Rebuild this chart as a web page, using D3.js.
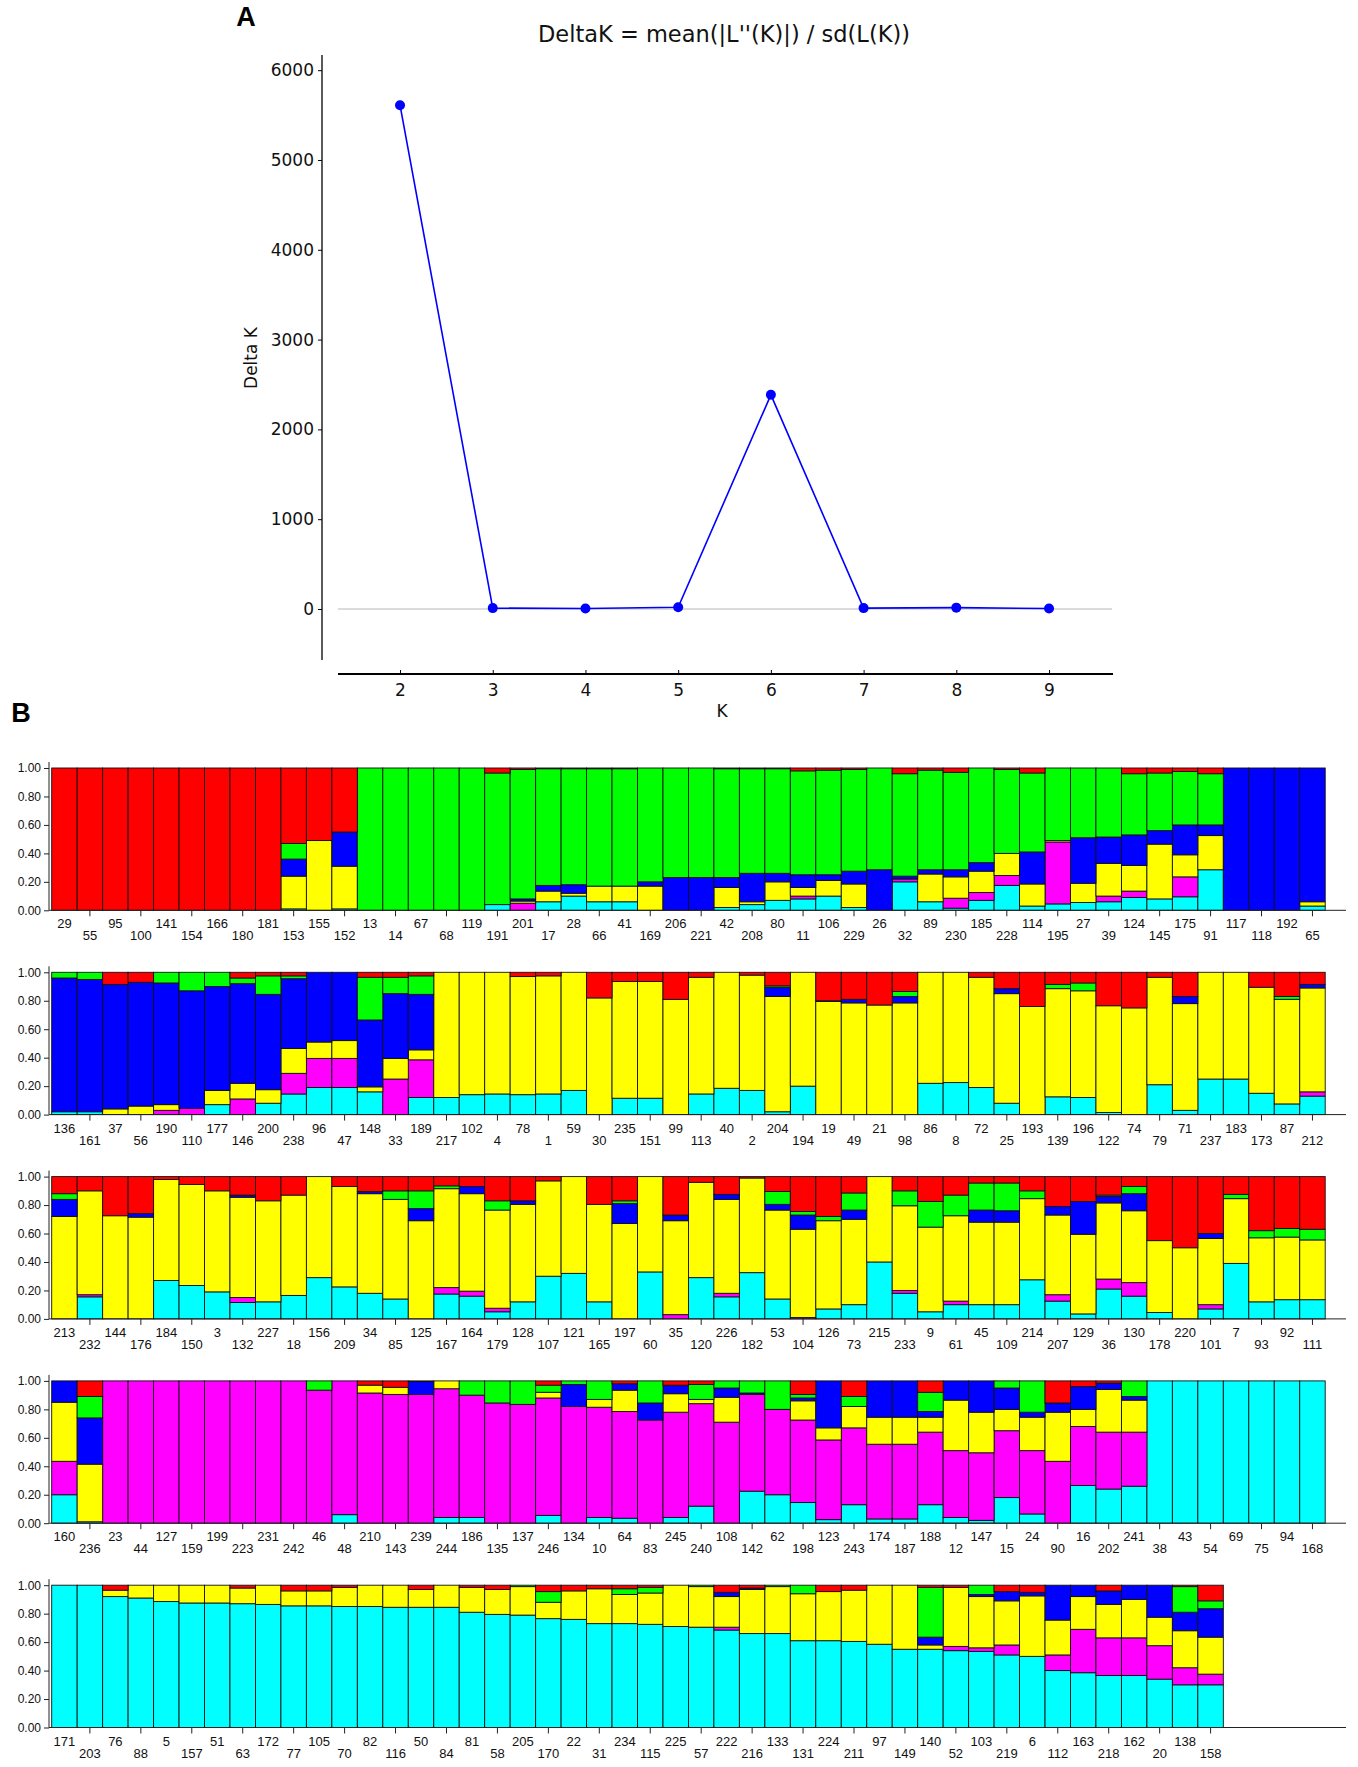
<!DOCTYPE html>
<html>
<head>
<meta charset="utf-8">
<script src="https://cdn.jsdelivr.net/npm/d3@7"></script>
<style>
  body { margin: 0; background: #fff; }
  svg { display: block; }
</style>
</head>
<body>
<svg id="chart" width="1358" height="1767"></svg>
<script>
// ---------------------------------------------------------------------
// Panel A data: Evanno DeltaK per K
// ---------------------------------------------------------------------
const kValues = [2, 3, 4, 5, 6, 7, 8, 9];
const deltaK = [5610, 10, 5, 20, 2385, 10, 15, 5];
const deltaTicks = [0, 1000, 2000, 3000, 4000, 5000, 6000];

// ---------------------------------------------------------------------
// Panel B data: membership per individual, cluster order bottom -> top
// ---------------------------------------------------------------------
const clusters = ['cyan', 'magenta', 'yellow', 'blue', 'green', 'red'];
const clusterColors = ['#00ffff', '#ff00ff', '#ffff00', '#0000ff', '#00ff00', '#ff0000'];
const qTicks = [0, 0.2, 0.4, 0.6, 0.8, 1.0];

const row1Labels = [29, 55, 95, 100, 141, 154, 166, 180, 181, 153, 155, 152, 13, 14, 67, 68, 119, 191, 201, 17,
  28, 66, 41, 169, 206, 221, 42, 208, 80, 11, 106, 229, 26, 32, 89, 230, 185, 228, 114, 195,
  27, 39, 124, 145, 175, 91, 117, 118, 192, 65];
const row1Values = [
  [0,0,0,0,0,1],[0,0,0,0,0,1],[0,0,0,0,0,1],[0,0,0,0,0,1],[0,0,0,0,0,1],
  [0,0,0,0,0,1],[0,0,0,0,0,1],[0,0,0,0,0,1],[0,0,0,0,0,1],
  [0.01,0,0.23,0.12,0.11,0.53],[0,0,0.49,0,0,0.51],[0.01,0,0.30,0.24,0,0.45],
  [0,0,0,0,1,0],[0,0,0,0,1,0],[0,0,0,0,1,0],[0,0,0,0,1,0],[0,0,0,0,1,0],
  [0.04,0,0,0,0.925,0.035],[0,0.05,0.015,0.015,0.91,0.01],[0.06,0,0.075,0.04,0.82,0.005],
  [0.10,0,0.02,0.06,0.815,0.005],[0.06,0,0.11,0,0.825,0.005],[0.06,0,0.11,0,0.825,0.005],
  [0,0,0.17,0.03,0.80,0],[0,0,0,0.23,0.77,0],[0,0,0,0.23,0.77,0],
  [0.02,0,0.14,0.07,0.765,0.005],[0.04,0,0.02,0.20,0.735,0.005],[0.07,0,0.13,0.06,0.735,0.005],
  [0.08,0.02,0.06,0.09,0.73,0.02],[0.10,0,0.11,0.04,0.735,0.015],[0.02,0,0.165,0.09,0.715,0.01],
  [0,0,0,0.285,0.715,0],[0.20,0.02,0,0.02,0.72,0.04],[0.06,0,0.195,0.03,0.70,0.015],
  [0.015,0.07,0.15,0.05,0.685,0.03],[0.07,0.055,0.15,0.06,0.665,0],[0.175,0.07,0.155,0,0.59,0.01],
  [0.03,0,0.155,0.225,0.555,0.035],[0.045,0.435,0.01,0,0.51,0],[0.055,0,0.135,0.32,0.49,0],
  [0.06,0.04,0.23,0.185,0.485,0],[0.09,0.045,0.18,0.215,0.43,0.04],[0.08,0,0.385,0.095,0.405,0.035],
  [0.095,0.14,0.155,0.21,0.375,0.025],[0.285,0,0.24,0.075,0.36,0.04],
  [0,0,0,1,0,0],[0,0,0,1,0,0],[0,0,0,1,0,0],[0.03,0,0.03,0.94,0,0]
];

const row2Labels = [136, 161, 37, 56, 190, 110, 177, 146, 200, 238, 96, 47, 148, 33, 189, 217, 102, 4, 78, 1,
  59, 30, 235, 151, 99, 113, 40, 2, 204, 194, 19, 49, 21, 98, 86, 8, 72, 25, 193, 139,
  196, 122, 74, 79, 71, 237, 183, 173, 87, 212];
const row2Values = [
  [0.02,0,0,0.94,0.04,0],[0.02,0,0,0.93,0.05,0],[0,0,0.04,0.875,0,0.085],[0,0,0.06,0.87,0,0.07],
  [0,0.03,0.04,0.855,0.075,0],[0,0.045,0,0.825,0.13,0],[0.07,0,0.10,0.73,0.10,0],
  [0,0.11,0.11,0.70,0.04,0.04],[0.08,0,0.095,0.67,0.13,0.025],[0.145,0.145,0.175,0.49,0.02,0.025],
  [0.19,0.205,0.115,0.49,0,0],[0.19,0.205,0.125,0.48,0,0],[0.16,0,0.035,0.47,0.30,0.035],
  [0,0.25,0.145,0.455,0.115,0.035],[0.12,0.265,0.07,0.39,0.13,0.025],
  [0.12,0,0.88,0,0,0],[0.14,0,0.86,0,0,0],[0.145,0,0.855,0,0,0],[0.14,0,0.83,0,0,0.03],
  [0.145,0,0.83,0,0,0.025],[0.17,0,0.83,0,0,0],[0,0,0.82,0,0,0.18],[0.115,0,0.82,0,0,0.065],
  [0.115,0,0.82,0,0,0.065],[0,0,0.81,0,0,0.19],[0.145,0,0.82,0,0,0.035],[0.185,0,0.815,0,0,0],
  [0.17,0,0.81,0,0,0.02],[0.02,0,0.81,0.065,0.01,0.095],[0.20,0,0.80,0,0,0],
  [0,0,0.795,0.005,0,0.20],[0,0,0.785,0.025,0,0.19],[0,0,0.77,0,0,0.23],
  [0,0,0.785,0.045,0.035,0.135],[0.22,0,0.78,0,0,0],[0.225,0,0.775,0,0,0],
  [0.19,0,0.775,0,0,0.035],[0.08,0,0.77,0.035,0,0.115],[0,0,0.76,0,0,0.24],
  [0.125,0,0.76,0,0.03,0.085],[0.12,0,0.75,0,0.055,0.075],[0.015,0,0.75,0,0,0.235],
  [0,0,0.75,0,0,0.25],[0.21,0,0.755,0,0,0.035],[0.03,0,0.75,0.05,0,0.17],
  [0.25,0,0.75,0,0,0],[0.25,0,0.75,0,0,0],[0.15,0,0.745,0,0,0.105],
  [0.075,0,0.735,0,0.02,0.17],[0.13,0.03,0.73,0.025,0,0.085]
];

const row3Labels = [213, 232, 144, 176, 184, 150, 3, 132, 227, 18, 156, 209, 34, 85, 125, 167, 164, 179, 128, 107,
  121, 165, 197, 60, 35, 120, 226, 182, 53, 104, 126, 73, 215, 233, 9, 61, 45, 109, 214, 207,
  129, 36, 130, 178, 220, 101, 7, 93, 92, 111];
const row3Values = [
  [0,0,0.72,0.12,0.04,0.12],[0.155,0.015,0.73,0,0,0.10],[0,0,0.725,0,0,0.275],[0,0,0.715,0.025,0,0.26],
  [0.27,0,0.71,0,0,0.02],[0.235,0,0.71,0,0,0.055],[0.19,0,0.71,0,0,0.10],
  [0.115,0.035,0.705,0.015,0,0.13],[0.12,0,0.71,0,0,0.17],[0.165,0,0.705,0,0,0.13],
  [0.29,0,0.71,0,0,0],[0.225,0,0.705,0,0,0.07],[0.18,0,0.70,0.015,0,0.105],
  [0.14,0,0.70,0,0.06,0.10],[0,0,0.69,0.085,0.125,0.10],[0.175,0.045,0.695,0,0.02,0.065],
  [0.16,0.035,0.685,0.05,0,0.07],[0.05,0.025,0.69,0,0.065,0.17],[0.12,0,0.685,0.025,0,0.17],
  [0.30,0,0.67,0,0,0.03],[0.32,0,0.68,0,0,0],[0.12,0,0.685,0,0,0.195],
  [0,0,0.67,0.14,0.02,0.17],[0.33,0,0.67,0,0,0],[0,0.03,0.66,0.04,0,0.27],
  [0.29,0,0.67,0,0,0.04],[0.155,0.025,0.66,0.035,0,0.125],[0.325,0,0.665,0,0,0.01],
  [0.14,0,0.625,0.04,0.09,0.105],[0,0.01,0.62,0.10,0.025,0.245],[0.07,0,0.62,0,0.03,0.28],
  [0.10,0,0.60,0.065,0.12,0.115],[0.40,0,0.60,0,0,0],[0.18,0.02,0.595,0,0.105,0.10],
  [0.05,0,0.595,0,0.18,0.175],[0.10,0.025,0.60,0,0.145,0.13],[0.10,0,0.58,0.085,0.19,0.045],
  [0.10,0,0.58,0.08,0.195,0.045],[0.275,0,0.57,0,0.055,0.10],[0.125,0.045,0.56,0.06,0,0.21],
  [0.035,0,0.56,0.23,0,0.175],[0.21,0.07,0.535,0.045,0.01,0.13],[0.16,0.095,0.505,0.12,0.05,0.07],
  [0.045,0,0.505,0,0,0.45],[0,0,0.50,0,0,0.50],[0.07,0.03,0.465,0.035,0,0.40],
  [0.39,0,0.455,0,0.03,0.125],[0.12,0,0.45,0,0.05,0.38],[0.135,0,0.44,0,0.06,0.365],
  [0.135,0,0.42,0,0.075,0.37]
];

const row4Labels = [160, 236, 23, 44, 127, 159, 199, 223, 231, 242, 46, 48, 210, 143, 239, 244, 186, 135, 137, 246,
  134, 10, 64, 83, 245, 240, 108, 142, 62, 198, 123, 243, 174, 187, 188, 12, 147, 15, 24, 90,
  16, 202, 241, 38, 43, 54, 69, 75, 94, 168];
const row4Values = [
  [0.20,0.235,0.415,0.15,0,0],[0.01,0,0.405,0.325,0.15,0.11],
  [0,1,0,0,0,0],[0,1,0,0,0,0],[0,1,0,0,0,0],[0,1,0,0,0,0],
  [0,1,0,0,0,0],[0,1,0,0,0,0],[0,1,0,0,0,0],[0,1,0,0,0,0],
  [0,0.935,0,0,0.065,0],[0.06,0.94,0,0,0,0],[0,0.915,0.055,0,0,0.03],[0,0.905,0.05,0,0,0.045],
  [0,0.905,0,0.09,0,0.005],[0.04,0.905,0.055,0,0,0],[0.04,0.86,0,0,0.10,0],
  [0,0.845,0,0,0.155,0],[0,0.835,0,0,0.165,0],[0.055,0.825,0.04,0,0.05,0.03],
  [0,0.82,0,0.155,0.025,0],[0.04,0.775,0.055,0,0.13,0],[0.035,0.75,0.15,0.045,0,0.02],
  [0,0.725,0,0.12,0.155,0],[0.04,0.74,0.13,0.06,0,0.03],[0.12,0.72,0.03,0,0.105,0.025],
  [0,0.71,0.175,0.065,0.05,0],[0.225,0.68,0,0.01,0.085,0],[0.20,0.60,0,0,0.20,0],
  [0.145,0.58,0.135,0.02,0.025,0.095],[0.025,0.56,0.085,0.33,0,0],[0.13,0.54,0.15,0,0.07,0.11],
  [0.03,0.525,0.19,0.255,0,0],[0.03,0.525,0.19,0.255,0,0],[0.13,0.51,0.105,0.04,0.135,0.08],
  [0.04,0.47,0.355,0.135,0,0],[0.02,0.475,0.285,0.22,0,0],[0.18,0.47,0.15,0.15,0.05,0],
  [0.065,0.445,0.235,0.035,0.22,0],[0,0.435,0.345,0.065,0,0.155],[0.265,0.415,0.12,0.16,0,0.04],
  [0.24,0.40,0.30,0.045,0,0.015],[0.26,0.38,0.225,0.025,0.11,0],
  [1,0,0,0,0,0],[1,0,0,0,0,0],[1,0,0,0,0,0],[1,0,0,0,0,0],[1,0,0,0,0,0],[1,0,0,0,0,0],[1,0,0,0,0,0]
];

const row5Labels = [171, 203, 76, 88, 5, 157, 51, 63, 172, 77, 105, 70, 82, 116, 50, 84, 81, 58, 205, 170,
  22, 31, 234, 115, 225, 57, 222, 216, 133, 131, 224, 211, 97, 149, 140, 52, 103, 219, 6, 112,
  163, 218, 162, 20, 138, 158];
const row5Values = [
  [1,0,0,0,0,0],[1,0,0,0,0,0],[0.92,0,0.045,0,0,0.035],[0.91,0,0.09,0,0,0],
  [0.885,0,0.115,0,0,0],[0.875,0,0.125,0,0,0],[0.875,0,0.125,0,0,0],[0.87,0,0.11,0,0,0.02],
  [0.865,0,0.135,0,0,0],[0.855,0,0.105,0,0,0.04],[0.855,0,0.105,0,0,0.04],[0.85,0,0.135,0,0,0.015],
  [0.85,0,0.15,0,0,0],[0.845,0,0.155,0,0,0],[0.845,0,0.125,0,0,0.03],[0.845,0,0.155,0,0,0],
  [0.81,0,0.175,0,0,0.015],[0.795,0,0.175,0,0,0.03],[0.79,0,0.20,0,0.01,0],
  [0.765,0,0.115,0,0.075,0.045],[0.76,0,0.20,0,0,0.04],[0.73,0,0.245,0,0,0.025],
  [0.73,0,0.205,0,0.04,0.025],[0.725,0,0.22,0,0.04,0.015],[0.71,0,0.29,0,0,0],
  [0.705,0,0.285,0,0.01,0],[0.685,0.02,0.215,0.03,0,0.05],[0.66,0,0.31,0.01,0,0.02],
  [0.66,0,0.33,0,0.01,0],[0.61,0,0.33,0,0.06,0],[0.61,0,0.345,0,0,0.045],
  [0.605,0,0.36,0,0,0.035],[0.585,0,0.415,0,0,0],[0.55,0,0.45,0,0,0],
  [0.55,0,0.03,0.055,0.35,0.015],[0.54,0.03,0.415,0,0,0.015],[0.535,0.025,0.36,0.015,0.065,0],
  [0.51,0.07,0.31,0.065,0,0.045],[0.50,0,0.425,0.025,0,0.05],[0.40,0.11,0.245,0.245,0,0],
  [0.385,0.305,0.23,0.08,0,0],[0.365,0.265,0.235,0.095,0,0.04],[0.365,0.265,0.27,0.10,0,0],
  [0.34,0.235,0.20,0.225,0,0],[0.30,0.12,0.26,0.13,0.18,0.01],[0.30,0.075,0.26,0.20,0.055,0.11]
];

const rows = [
  { labels: row1Labels, values: row1Values },
  { labels: row2Labels, values: row2Values },
  { labels: row3Labels, values: row3Values },
  { labels: row4Labels, values: row4Values },
  { labels: row5Labels, values: row5Values }
];

const svg = d3.select('#chart');
svg.append('rect').attr('width', 1358).attr('height', 1767).attr('fill', '#fff');

const plotFont = '"DejaVu Sans", sans-serif';
const barFont = '"Liberation Sans Narrow", "Liberation Sans", Arial, sans-serif';

// =====================================================================
// Panel A: DeltaK line plot
// =====================================================================
const xA = d3.scaleLinear().domain([1.331, 9.69]).range([338, 1113]);
const yA = d3.scaleLinear().domain([-568, 6169]).range([660, 55]);

const panelA = svg.append('g');

// zero reference line
panelA.append('line')
  .attr('x1', 338).attr('x2', 1112)
  .attr('y1', yA(0)).attr('y2', yA(0))
  .attr('stroke', '#cfcfcf').attr('stroke-width', 1.6);

const yAxisA = panelA.append('g')
  .attr('transform', `translate(${322},0)`)
  .call(d3.axisLeft(yA).tickValues(deltaTicks).tickSize(4).tickPadding(4).tickFormat(d3.format('d')));
yAxisA.select('.domain').attr('stroke', '#000').attr('stroke-width', 1.3).attr('d', 'M0,55V660');
yAxisA.selectAll('text').attr('font-family', plotFont).attr('font-size', 17).attr('fill', '#111');

const xAxisA = panelA.append('g')
  .attr('transform', `translate(0,${674})`)
  .call(d3.axisBottom(xA).tickValues(kValues).tickSize(-4).tickPadding(10).tickFormat(d3.format('d')));
xAxisA.select('.domain').attr('stroke', '#000').attr('stroke-width', 2).attr('d', 'M338,0H1113');
xAxisA.selectAll('text').attr('font-family', plotFont).attr('font-size', 17).attr('fill', '#111');

const lineA = d3.line().x((d, i) => xA(kValues[i])).y(d => yA(d));
panelA.append('path')
  .datum(deltaK)
  .attr('d', lineA)
  .attr('fill', 'none')
  .attr('stroke', '#0000ff')
  .attr('stroke-width', 1.6);

panelA.selectAll('circle.pt')
  .data(deltaK)
  .join('circle')
  .attr('class', 'pt')
  .attr('cx', (d, i) => xA(kValues[i]))
  .attr('cy', d => yA(d))
  .attr('r', 5)
  .attr('fill', '#0000ff');

panelA.append('text')
  .attr('x', 724).attr('y', 42)
  .attr('text-anchor', 'middle')
  .attr('font-family', plotFont).attr('font-size', 22.5).attr('fill', '#111')
  .text("DeltaK = mean(|L''(K)|) / sd(L(K))");

panelA.append('text')
  .attr('transform', 'translate(257,358) rotate(-90)')
  .attr('text-anchor', 'middle')
  .attr('font-family', plotFont).attr('font-size', 17).attr('fill', '#111')
  .text('Delta K');

panelA.append('text')
  .attr('x', 722).attr('y', 717)
  .attr('text-anchor', 'middle')
  .attr('font-family', plotFont).attr('font-size', 17).attr('fill', '#111')
  .text('K');

svg.append('text')
  .attr('x', 246).attr('y', 26)
  .attr('text-anchor', 'middle')
  .attr('font-family', '"Liberation Sans", Arial, sans-serif')
  .attr('font-weight', 'bold').attr('font-size', 27)
  .text('A');

svg.append('text')
  .attr('x', 21).attr('y', 722)
  .attr('text-anchor', 'middle')
  .attr('font-family', '"Liberation Sans", Arial, sans-serif')
  .attr('font-weight', 'bold').attr('font-size', 27)
  .text('B');

// =====================================================================
// Panel B: STRUCTURE bar plots (K = 6)
// =====================================================================
const rowTop0 = 768;
const rowPitch = 204.3;
const barH = 142.3;
const barX0 = 51.7;
const barW = 25.47;
const axisX = 49;
const axisEnd = 1346;

const stack = d3.stack().keys(clusters);

rows.forEach((row, r) => {
  const top = rowTop0 + r * rowPitch;
  const bottom = top + barH;
  const g = svg.append('g');

  const x = d3.scaleBand()
    .domain(d3.range(row.values.length))
    .range([barX0, barX0 + row.values.length * barW])
    .padding(0);
  const y = d3.scaleLinear().domain([0, 1]).range([bottom, top]);

  const records = row.values.map((v, i) => {
    const total = d3.sum(v);
    const rec = { i };
    clusters.forEach((k, j) => { rec[k] = v[j] / total; });
    return rec;
  });
  const series = stack(records);

  g.selectAll('g.layer')
    .data(series)
    .join('g')
    .attr('class', 'layer')
    .attr('fill', (s, j) => clusterColors[j])
    .selectAll('rect')
    .data(s => s.filter(d => d[1] - d[0] > 0.0005))
    .join('rect')
    .attr('x', d => x(d.data.i))
    .attr('width', x.bandwidth())
    .attr('y', d => y(d[1]))
    .attr('height', d => y(d[0]) - y(d[1]))
    .attr('stroke', '#111')
    .attr('stroke-width', 0.9);

  // y axis
  const yAxis = g.append('g')
    .attr('transform', `translate(${axisX},0)`)
    .call(d3.axisLeft(y).tickValues(qTicks).tickSize(5).tickPadding(3).tickFormat(d3.format('.2f')));
  yAxis.select('.domain').attr('d', `M0,${top - 6}V${bottom}`).attr('stroke', '#222');
  yAxis.selectAll('.tick line').attr('stroke', '#222');
  yAxis.selectAll('text').attr('font-family', barFont).attr('font-size', 12).attr('fill', '#111');

  // baseline
  g.append('line')
    .attr('x1', axisX).attr('x2', axisEnd)
    .attr('y1', bottom).attr('y2', bottom)
    .attr('stroke', '#222').attr('stroke-width', 1);

  // label ticks for the lower label row
  g.selectAll('line.lt')
    .data(row.labels.filter((d, i) => i % 2 === 1).map((d, k) => 2 * k + 1))
    .join('line')
    .attr('class', 'lt')
    .attr('x1', i => x(i) + x.bandwidth() / 2)
    .attr('x2', i => x(i) + x.bandwidth() / 2)
    .attr('y1', bottom).attr('y2', bottom + 6)
    .attr('stroke', '#222');

  g.selectAll('text.lab')
    .data(row.labels)
    .join('text')
    .attr('class', 'lab')
    .attr('x', (d, i) => x(i) + x.bandwidth() / 2)
    .attr('y', (d, i) => bottom + (i % 2 === 0 ? 18 : 30))
    .attr('text-anchor', 'middle')
    .attr('font-family', barFont)
    .attr('font-size', 13)
    .attr('fill', '#111')
    .text(d => d);
});
</script>
</body>
</html>
